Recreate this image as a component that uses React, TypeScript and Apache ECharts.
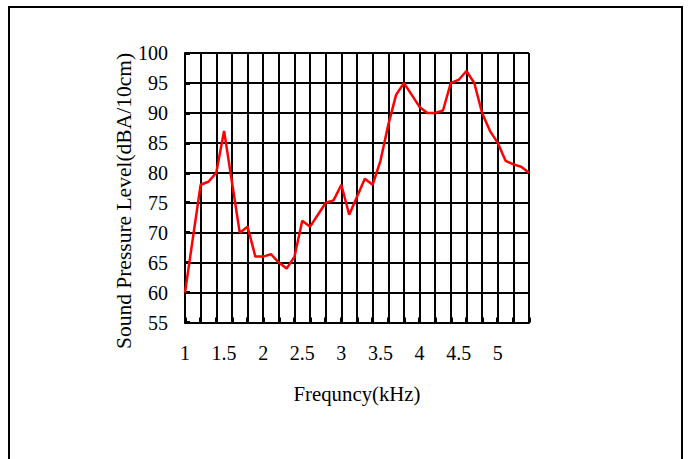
import React, { useEffect, useRef } from "react";
import * as echarts from "echarts";

const frequencies = [
  "1", "1.1", "1.2", "1.3", "1.4", "1.5", "1.6", "1.7", "1.8", "1.9",
  "2", "2.1", "2.2", "2.3", "2.4", "2.5", "2.6", "2.7", "2.8", "2.9",
  "3", "3.1", "3.2", "3.3", "3.4", "3.5", "3.6", "3.7", "3.8", "3.9",
  "4", "4.1", "4.2", "4.3", "4.4", "4.5", "4.6", "4.7", "4.8", "4.9",
  "5", "5.1", "5.2", "5.3", "5.4",
];

const splValues = [
  60, 69, 78, 78.5, 80, 87, 78.5, 70, 71, 66,
  66, 66.4, 65, 64, 66, 72, 71, 73, 75, 75.4,
  78, 73, 76, 79, 78, 82, 88, 93, 95, 93,
  91, 90, 90, 90.4, 95, 95.5, 97, 95, 90, 87,
  85, 82, 81.4, 81, 80,
];

const yMin = 55;
const yMax = 100;
const yStep = 5;

const xTitle = "Frequncy(kHz)";
const yTitle = "Sound Pressure Level(dBA/10cm)";

const FONT = "'Liberation Serif', 'Times New Roman', serif";

export default function App() {
  const ref = useRef<HTMLDivElement>(null);

  useEffect(() => {
    if (!ref.current) return;
    const chart = echarts.init(ref.current, undefined, { renderer: "svg" });
    chart.setOption({
      animation: false,
      backgroundColor: "#ffffff",
      textStyle: { fontFamily: FONT },
      grid: { left: 185, top: 53, width: 344, height: 269.5, containLabel: false },
      xAxis: {
        type: "category",
        data: frequencies,
        boundaryGap: false,
        axisLine: { show: true, lineStyle: { color: "#000", width: 2 } },
        axisTick: {
          show: true,
          inside: true,
          length: 5,
          interval: (i: number) => i % 2 === 0,
          lineStyle: { color: "#000", width: 3 },
        },
        axisLabel: {
          interval: (i: number) => i % 5 === 0,
          color: "#000",
          fontFamily: FONT,
          fontSize: 20,
          margin: 20,
        },
        splitLine: {
          show: true,
          interval: (i: number) => i % 2 === 0,
          lineStyle: { color: "#000", width: 2 },
        },
      },
      yAxis: {
        type: "value",
        min: yMin,
        max: yMax,
        interval: yStep,
        axisLine: { show: true, lineStyle: { color: "#000", width: 2 } },
        axisTick: { show: true, inside: true, length: 5, lineStyle: { color: "#000", width: 3 } },
        axisLabel: { color: "#000", fontFamily: FONT, fontSize: 20, margin: 17 },
        splitLine: { show: true, lineStyle: { color: "#000", width: 2 } },
      },
      series: [
        {
          type: "line",
          data: splValues,
          symbol: "none",
          lineStyle: { color: "#ff0000", width: 2.5 },
          z: 5,
        },
      ],
      graphic: [
        {
          type: "rect",
          shape: { x: 9, y: 7, width: 673, height: 480 },
          style: { fill: "none", stroke: "#000", lineWidth: 2 },
          silent: true,
        },
        {
          type: "text",
          x: 124,
          y: 201,
          rotation: Math.PI / 2,
          style: {
            text: yTitle,
            fill: "#000",
            font: `21.5px ${FONT}`,
            align: "center",
            verticalAlign: "middle",
          },
        },
        {
          type: "text",
          x: 357,
          y: 393,
          style: {
            text: xTitle,
            fill: "#000",
            font: `20.8px ${FONT}`,
            align: "center",
            verticalAlign: "middle",
          },
        },
      ],
    });
    return () => chart.dispose();
  }, []);

  return (
    <div
      ref={ref}
      style={{ position: "fixed", left: 0, top: 0, width: 688, height: 459 }}
    />
  );
}
